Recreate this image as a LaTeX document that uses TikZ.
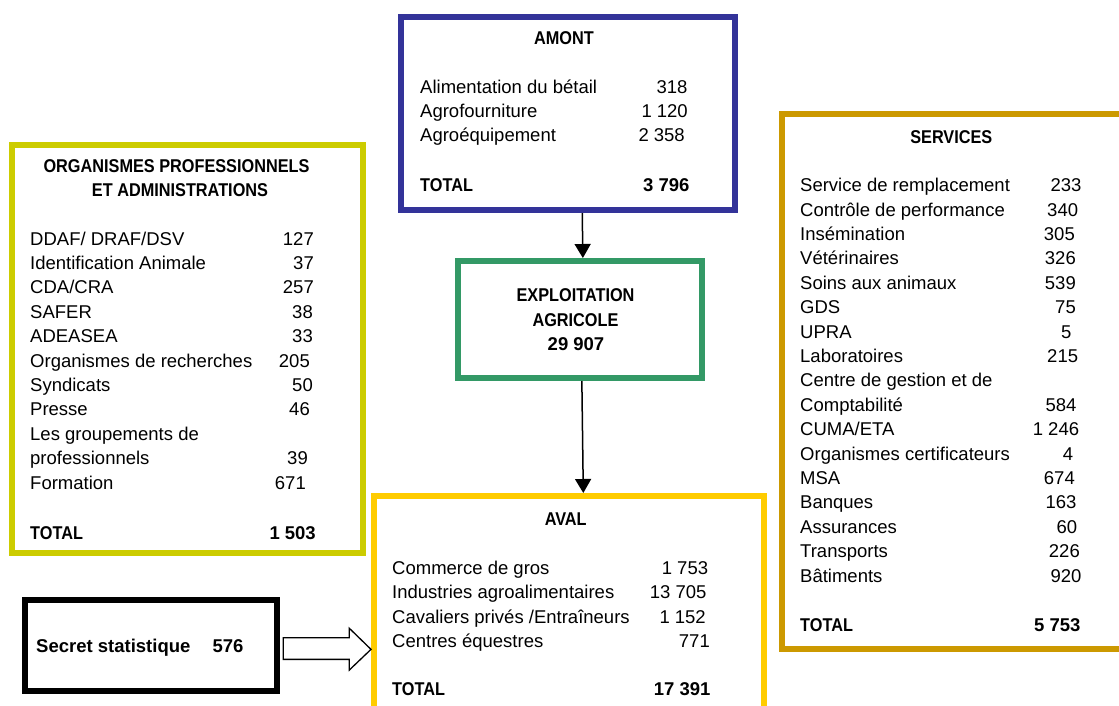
\documentclass[tikz,border=0pt]{standalone}
\usepackage{fontspec}
\setmainfont{Liberation Sans}
\newfontfamily\headfont{Liberation Sans}[FakeStretch=0.88]
\usetikzlibrary{arrows.meta,calc}
\definecolor{amontblue}{RGB}{51,51,153}
\definecolor{exploitgreen}{RGB}{51,153,102}
\definecolor{orgyellow}{RGB}{204,204,0}
\definecolor{avalyellow}{RGB}{255,204,0}
\definecolor{servgold}{RGB}{204,153,0}
\newcommand\figfont{\fontsize{18.5}{24.4}\selectfont}

\begin{document}
\begin{tikzpicture}[x=1pt,y=-1pt,>={Triangle[width=16pt,length=14pt]},
 box/.style={draw=#1,line width=6pt,inner sep=0pt},
 lab/.style={anchor=base west,inner sep=0pt,font=\figfont},
 val/.style={anchor=base east,inner sep=0pt,font=\figfont},
 tot/.style={font=\figfont\bfseries},
 caps/.style={font=\figfont\headfont\bfseries},
 head/.style={anchor=base,inner sep=0pt,caps},
 link/.style={->,line width=1.5pt},
 hollow/.style={draw,line width=1.3pt,fill=white}]
\useasboundingbox (0,0) rectangle (1119,705);

% boxes
\node[box=amontblue,minimum width=333.5pt,minimum height=193.5pt] (amont) at (567.75,113.25) {};
\node[box=exploitgreen,minimum width=244.3pt,minimum height=117pt] (exploit) at (579.85,319.5) {};
\node[box=orgyellow,minimum width=351pt,minimum height=408.5pt] (org) at (187.5,348.75) {};
\node[box=servgold,minimum width=344pt,minimum height=534.5pt] (serv) at (953.7,381.25) {};
\node[box=avalyellow,minimum width=390pt,minimum height=240pt] (aval) at (569,616) {};
\node[box=black,minimum width=252.5pt,minimum height=91.3pt] (secret) at (150.75,645.35) {};

% amont
\node[head] (amont-t) at (564,44) {AMONT};
\foreach \t/\v/\x [count=\i from 0] in {Alimentation du bétail/318/687.7,Agrofourniture/1 120/688,Agroéquipement/2 358/685}{
 \node[lab] (amont-l\i) at (420,{93.3+24.2*\i}) {\t};
 \node[val] (amont-v\i) at (\x,{93.3+24.2*\i}) {\v};
}
\node[lab,caps] (amont-tl) at (420,191) {TOTAL};
\node[val,tot] (amont-tv) at (689.7,191) {3 796};

% exploitation
\node[head] (exploit-1) at (575.5,301.8) {EXPLOITATION};
\node[head] (exploit-2) at (575.5,326.3) {AGRICOLE};
\node[anchor=base,inner sep=0pt,tot] (exploit-3) at (576,350.8) {29 907};

% organismes
\node[head] (org-t1) at (176.5,172.7) {ORGANISMES PROFESSIONNELS};
\node[head] (org-t2) at (180,196.7) {ET ADMINISTRATIONS};
\foreach \t [count=\i from 0] in {DDAF/ DRAF/DSV,Identification Animale,CDA/CRA,SAFER,ADEASEA,Organismes de recherches,Syndicats,Presse,Les groupements de,professionnels,Formation}
 \node[lab] (org-l\i) at (30,{245+24.4*\i}) {\t};
\foreach \v/\i/\x in {127/0/314,37/1/314,257/2/314,38/3/313,33/4/313,205/5/310,50/6/313,46/7/310,39/9/308,671/10/306}
 \node[val] (org-v\i) at (\x,{245+24.4*\i}) {\v};
\node[lab,caps] (org-tl) at (30,539) {TOTAL};
\node[val,tot] (org-tv) at (316,539) {1 503};

% services
\node[head] (serv-t) at (951.3,143.3) {SERVICES};
\foreach \t [count=\i from 0] in {Service de remplacement,Contrôle de performance,Insémination,Vétérinaires,Soins aux animaux,GDS,UPRA,Laboratoires,Centre de gestion et de,Comptabilité,CUMA/ETA,Organismes certificateurs,MSA,Banques,Assurances,Transports,Bâtiments}
 \node[lab] (serv-l\i) at (800,{191.7+24.4*\i}) {\t};
\foreach \v/\i/\x in {233/0/1081.7,340/1/1078.3,305/2/1075,326/3/1076,539/4/1076,75/5/1076,5/6/1071.7,215/7/1078.3,584/9/1076.7,1 246/10/1079.3,4/11/1073.3,674/12/1075,163/13/1076.7,60/14/1077.3,226/15/1080,920/16/1081.7}
 \node[val] (serv-v\i) at (\x,{191.7+24.4*\i}) {\v};
\node[lab,caps] (serv-tl) at (800,631.5) {TOTAL};
\node[val,tot] (serv-tv) at (1080.7,631.5) {5 753};

% aval
\node[head] (aval-t) at (565.7,525) {AVAL};
\foreach \t/\v/\x [count=\i from 0] in {Commerce de gros/1 753/708.3,Industries agroalimentaires/13 705/706.7,{Cavaliers privés /Entraîneurs}/1 152/706,Centres équestres/771/710}{
 \node[lab] (aval-l\i) at (392,{574.3+24.4*\i}) {\t};
 \node[val] (aval-v\i) at (\x,{574.3+24.4*\i}) {\v};
}
\node[lab,caps] (aval-tl) at (392,695) {TOTAL};
\node[val,tot] (aval-tv) at (710.7,695) {17 391};

% secret statistique
\node[lab,tot] (secret-l) at (36,652.3) {Secret statistique};
\node[lab,tot] (secret-v) at (212.3,652.3) {576};

% connectors
\draw[link] ([xshift=14.5pt]amont.south) -- ([xshift=3pt]exploit.north);
\draw[link] ([xshift=2pt]exploit.south) -- ([xshift=14.3pt]aval.north);
\coordinate (tip) at ([yshift=-4pt]aval.west |- secret.east);
\draw[hollow] ($(secret.east)+(3.3,-7.7)$) -- ++(66,0) -- ++(0,-9.4) -- (tip)
 -- ++(-21.7,20.7) -- ++(0,-10.7) -- ++(-66,0) -- cycle;
\end{tikzpicture}
\end{document}
